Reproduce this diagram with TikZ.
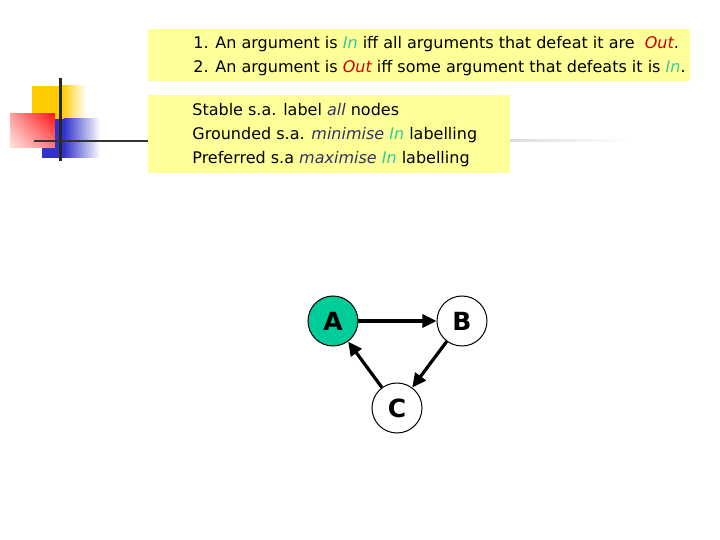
\documentclass[tikz,border=0pt]{standalone}
\usepackage{fontspec}
\setmainfont{DejaVu Sans}
\usetikzlibrary{arrows.meta,shadings}

\definecolor{notebg}{RGB}{255,255,153}
\definecolor{ingreen}{RGB}{51,204,153}
\definecolor{outred}{RGB}{204,0,0}
\definecolor{emphblue}{RGB}{51,51,102}
\definecolor{nodegreen}{RGB}{0,204,153}
\definecolor{decoyellow}{RGB}{255,204,0}
\definecolor{decored}{RGB}{255,20,20}
\definecolor{decoblue}{RGB}{51,51,204}

\newcommand{\lblin}{\textcolor{ingreen}{\itshape In}}
\newcommand{\lblout}{\textcolor{outred}{\itshape Out}}
\newcommand{\emphword}[1]{\textcolor{emphblue}{\itshape #1}}

\tikzset{
	noteline/.style={anchor=base west, inner sep=0pt, font=\fontsize{8}{12}\selectfont},
	argnode/.style={circle, draw=black, line width=0.5pt, minimum size=25pt, inner sep=0pt, font=\fontsize{12.5}{15}\selectfont\bfseries},
	defeat/.style={line width=1.6pt, -{Triangle[length=7pt, width=6.5pt]}}
}

\begin{document}
\begin{tikzpicture}[x=0.5pt, y=-0.5pt]
	\useasboundingbox (0,0) rectangle (720,540);
	% corner ornament
	\fill[decoyellow] (32,86) rectangle (62,119);
	\shade[left color=decoyellow, right color=white] (62,86) rectangle (86,119);
	\fill[decoblue] (42,119) rectangle (64,158);
	\shade[left color=decoblue, right color=white] (64,119) rectangle (100,158);
	\shade[upper right=decored, upper left=decored!40, lower right=decored!55, lower left=decored!12] (10,114) rectangle (55,148);
	\draw[line width=1.5pt, black!85] (61,78) -- (61,161);
	\shade[left color=black!15, right color=white] (500,140) rectangle (630,142);
	\draw[line width=1.25pt, black!80] (34,141) -- (148,141);
	% rules of the labelling
	\fill[notebg] (148,29) rectangle (690,81);
	\node[noteline] (rulein) at (193,49) {1. An argument is \lblin{} iff all arguments that defeat it are \ \lblout.};
	\node[noteline] (ruleout) at (193,73) {2. An argument is \lblout{} iff some argument that defeats it is \lblin.};
	% semantics
	\fill[notebg] (148,95) rectangle (510,173);
	\node[noteline] (stable) at (192,116) {Stable s.a. label \emphword{all} nodes};
	\node[noteline] (grounded) at (192,140) {Grounded s.a. \emphword{minimise} \lblin{} labelling};
	\node[noteline] (preferred) at (192,164) {Preferred s.a \emphword{maximise} \lblin{} labelling};
	% argument graph
	\node[argnode, fill=nodegreen] (A) at (333,321) {A};
	\node[argnode] (B) at (462,321) {B};
	\node[argnode] (C) at (397,408) {C};
	\draw[defeat] (A) -- (B);
	\draw[defeat] (B) -- (C);
	\draw[defeat] (C) -- (A);
\end{tikzpicture}
\end{document}
